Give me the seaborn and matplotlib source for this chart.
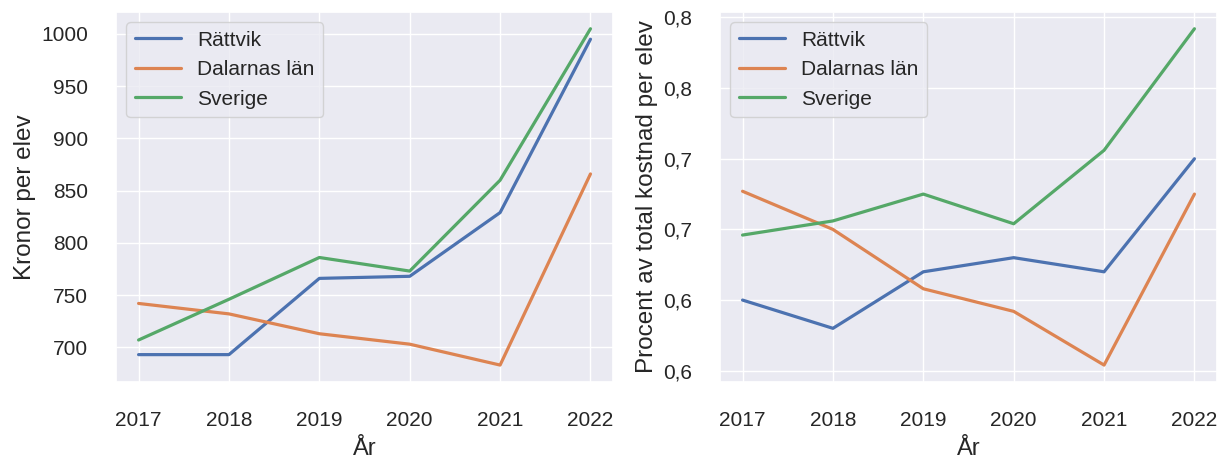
import matplotlib
matplotlib.use("Agg")
import matplotlib.pyplot as plt
from matplotlib.ticker import FuncFormatter, MultipleLocator
import seaborn as sns

# data
years = [2017, 2018, 2019, 2020, 2021, 2022]
series = ['Rättvik', 'Dalarnas län', 'Sverige']

kronor_rattvik = [693, 693, 766, 768, 829, 995]
kronor_dalarna = [742, 732, 713, 703, 683, 866]
kronor_sverige = [707, 746, 786, 773, 860, 1005]

procent_rattvik = [0.600, 0.580, 0.620, 0.630, 0.620, 0.700]
procent_dalarna = [0.677, 0.650, 0.608, 0.592, 0.554, 0.675]
procent_sverige = [0.646, 0.656, 0.675, 0.654, 0.706, 0.792]

sns.set_theme(style="darkgrid")
plt.rcParams['font.family'] = ['Liberation Sans', 'DejaVu Sans']

fig, axes = plt.subplots(1, 2, figsize=(12.26, 4.59), dpi=100)
fig.subplots_adjust(left=0.0946, right=0.9927, top=0.974, bottom=0.168, wspace=0.215)

left = [kronor_rattvik, kronor_dalarna, kronor_sverige]
right = [procent_rattvik, procent_dalarna, procent_sverige]

for ax, data, ylabel in [(axes[0], left, 'Kronor per elev'),
                         (axes[1], right, 'Procent av total kostnad per elev')]:
    for name, vals in zip(series, data):
        sns.lineplot(x=years, y=vals, label=name, ax=ax, linewidth=2.3)
    ax.set_xlabel('År', fontsize=17, labelpad=6)
    ax.set_ylabel(ylabel, fontsize=17.5)
    ax.tick_params(axis='both', labelsize=15)
    ax.tick_params(axis='x', pad=15)
    ax.tick_params(axis='y', pad=14)
    ax.legend(loc='upper left', fontsize=15, handlelength=2.2)

axes[1].yaxis.set_major_locator(MultipleLocator(0.05))
axes[1].yaxis.set_major_formatter(FuncFormatter(lambda v, _: f"{v:.1f}".replace('.', ',')))

fig.savefig('out.png', dpi=100)
